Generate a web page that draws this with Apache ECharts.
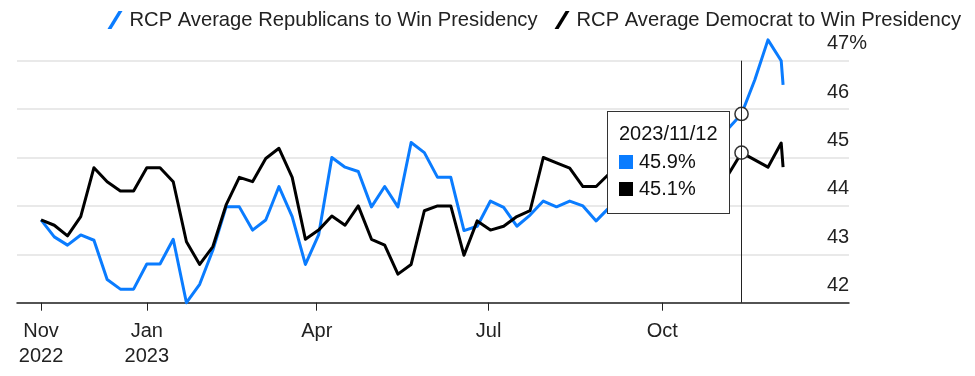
<!DOCTYPE html>
<html>
<head>
<meta charset="utf-8">
<script src="https://cdn.jsdelivr.net/npm/echarts@6/dist/echarts.min.js"></script>
<style>
  html, body { margin: 0; padding: 0; background: #fff; }
  #chart { width: 975px; height: 376px; }
</style>
</head>
<body>
<div id="chart"></div>
<script>
// weekly readings (Sundays), last point is the next day
var dates = [
  '2022-11-06','2022-11-13','2022-11-20','2022-11-27','2022-12-04','2022-12-11','2022-12-18','2022-12-25',
  '2023-01-01','2023-01-08','2023-01-15','2023-01-22','2023-01-29','2023-02-05','2023-02-12','2023-02-19',
  '2023-02-26','2023-03-05','2023-03-12','2023-03-19','2023-03-26','2023-04-02','2023-04-09','2023-04-16',
  '2023-04-23','2023-04-30','2023-05-07','2023-05-14','2023-05-21','2023-05-28','2023-06-04','2023-06-11',
  '2023-06-18','2023-06-25','2023-07-02','2023-07-09','2023-07-16','2023-07-23','2023-07-30','2023-08-06',
  '2023-08-13','2023-08-20','2023-08-27','2023-09-03','2023-09-10','2023-09-17','2023-09-24','2023-10-01',
  '2023-10-08','2023-10-15','2023-10-22','2023-10-29','2023-11-05','2023-11-12','2023-11-19','2023-11-26',
  '2023-12-03','2023-12-04'
];
var republicans = [
  43.71, 43.36, 43.19, 43.40, 43.29, 42.48, 42.28, 42.28,
  42.80, 42.80, 43.31, 42.00, 42.38, 43.09, 43.98, 43.98,
  43.50, 43.71, 44.40, 43.78, 42.79, 43.40, 45.00, 44.80,
  44.71, 43.98, 44.40, 43.98, 45.31, 45.10, 44.59, 44.59,
  43.49, 43.58, 44.10, 43.97, 43.58, 43.81, 44.10, 43.98,
  44.10, 44.00, 43.69, 43.97, 44.20, 44.10, 44.50, 44.80,
  44.70, 45.00, 45.20, 45.30, 45.60, 45.90, 46.60, 47.43,
  47.00, 46.50
];
var democrats = [
  43.71, 43.60, 43.38, 43.78, 44.79, 44.50, 44.31, 44.31,
  44.79, 44.79, 44.50, 43.26, 42.79, 43.16, 44.02, 44.59,
  44.50, 44.98, 45.19, 44.59, 43.31, 43.50, 43.79, 43.60,
  44.00, 43.31, 43.19, 42.59, 42.79, 43.90, 44.00, 44.00,
  42.98, 43.69, 43.50, 43.58, 43.78, 43.90, 45.00, 44.89,
  44.78, 44.40, 44.40, 44.67, 44.90, 44.70, 44.50, 44.80,
  44.60, 44.90, 44.40, 44.70, 44.65, 45.10, 44.95, 44.80,
  45.30, 44.80
];
var seriesNames = ['RCP Average Republicans to Win Presidency', 'RCP Average Democrat to Win Presidency'];
var seriesColors = ['#0a7cff', '#000000'];
var tickDates = ['2022-11-06', '2023-01-01', '2023-04-01', '2023-07-01', '2023-10-01'];
var tickLabels = ['Nov\n2022', 'Jan\n2023', 'Apr', 'Jul', 'Oct'];
var yTicks = [42, 43, 44, 45, 46, 47];
var yTickLabels = ['42', '43', '44', '45', '46', '47%'];
var focusDate = '2023-11-12';

var FONT = '"Liberation Sans", Arial, Helvetica, sans-serif';
function toTime(d) { return +echarts.time.parse(d); }
var focusIndex = dates.indexOf(focusDate);
var times = dates.map(toTime);
var tickTimes = tickDates.map(toTime);

function buildData(values) {
  return values.map(function (v, i) {
    if (i === focusIndex) {
      return {
        value: [times[i], v],
        symbol: 'circle',
        symbolSize: 12,
        itemStyle: { color: '#fff', borderColor: '#333', borderWidth: 1.5 }
      };
    }
    return { value: [times[i], v], symbol: 'none' };
  });
}

function makeSeries(idx, values) {
  return {
    name: seriesNames[idx],
    type: 'line',
    color: seriesColors[idx],
    data: buildData(values),
    showSymbol: true,
    showAllSymbol: true,
    clip: false,
    lineStyle: { width: 3, color: seriesColors[idx], join: 'round' },
    emphasis: { disabled: true },
    z: 3
  };
}

var chart = echarts.init(document.getElementById('chart'));
chart.setOption({
  animation: false,
  backgroundColor: '#fff',
  textStyle: { fontFamily: FONT },
  grid: { left: 17, right: 126, top: 60.7, bottom: 73.3, outerBoundsMode: 'none' },
  legend: {
    right: 9,
    top: 5,
    itemWidth: 15,
    itemHeight: 18,
    itemGap: 17,
    icon: 'path://M11,0 L15,0 L4,18 L0,18 Z',
    textStyle: { fontSize: 20.2, color: '#222', fontFamily: FONT, padding: [0, 0, 0, 2] },
    data: seriesNames
  },
  tooltip: {
    trigger: 'axis',
    triggerOn: 'none',
    alwaysShowContent: true,
    transitionDuration: 0,
    position: [607, 111],
    backgroundColor: '#fff',
    borderColor: '#333',
    borderWidth: 1,
    padding: [8, 11, 10, 11],
    extraCssText: 'box-shadow:none;border-radius:0;',
    textStyle: { fontFamily: FONT, fontSize: 20, color: '#111' },
    axisPointer: {
      type: 'line',
      snap: true,
      lineStyle: { color: '#222', width: 1, type: 'solid' }
    },
    formatter: function (params) {
      var head = dates[params[0].dataIndex].replace(/-/g, '/');
      var html = '<div style="line-height:27.5px">' + head + '</div>';
      params.forEach(function (p) {
        html += '<div style="line-height:27.5px">' +
          '<span style="display:inline-block;width:14px;height:14px;margin-right:6px;vertical-align:-1px;background:' +
          seriesColors[p.seriesIndex] + '"></span>' + p.value[1].toFixed(1) + '%</div>';
      });
      return html;
    }
  },
  xAxis: {
    type: 'value',
    min: toTime('2022-10-24 06:00'),
    max: toTime('2024-01-07 22:00'),
    scale: true,
    splitLine: { show: false },
    axisLine: { lineStyle: { color: '#222', width: 1.5 } },
    axisTick: {
      customValues: tickTimes,
      length: 8,
      lineStyle: { color: '#222', width: 1 }
    },
    axisLabel: {
      customValues: tickTimes,
      fontSize: 20,
      lineHeight: 25,
      margin: 16,
      color: '#222',
      fontFamily: FONT,
      formatter: function (val) {
        var i = tickTimes.indexOf(+val);
        return i >= 0 ? tickLabels[i] : '';
      }
    }
  },
  yAxis: {
    type: 'value',
    position: 'right',
    min: 42,
    max: 47,
    interval: 1,
    axisLine: { show: false },
    axisTick: { show: false },
    splitLine: { lineStyle: { color: '#e9e9e9', width: 2 } },
    axisLabel: {
      inside: true,
      margin: 22,
      align: 'left',
      verticalAlign: 'bottom',
      padding: [0, 0, 7, 0],
      fontSize: 20,
      color: '#222',
      fontFamily: FONT,
      formatter: function (v) {
        var i = yTicks.indexOf(v);
        return i >= 0 ? yTickLabels[i] : '';
      }
    }
  },
  series: [makeSeries(0, republicans), makeSeries(1, democrats)]
});

chart.dispatchAction({ type: 'showTip', seriesIndex: 0, dataIndex: focusIndex });
</script>
</body>
</html>
